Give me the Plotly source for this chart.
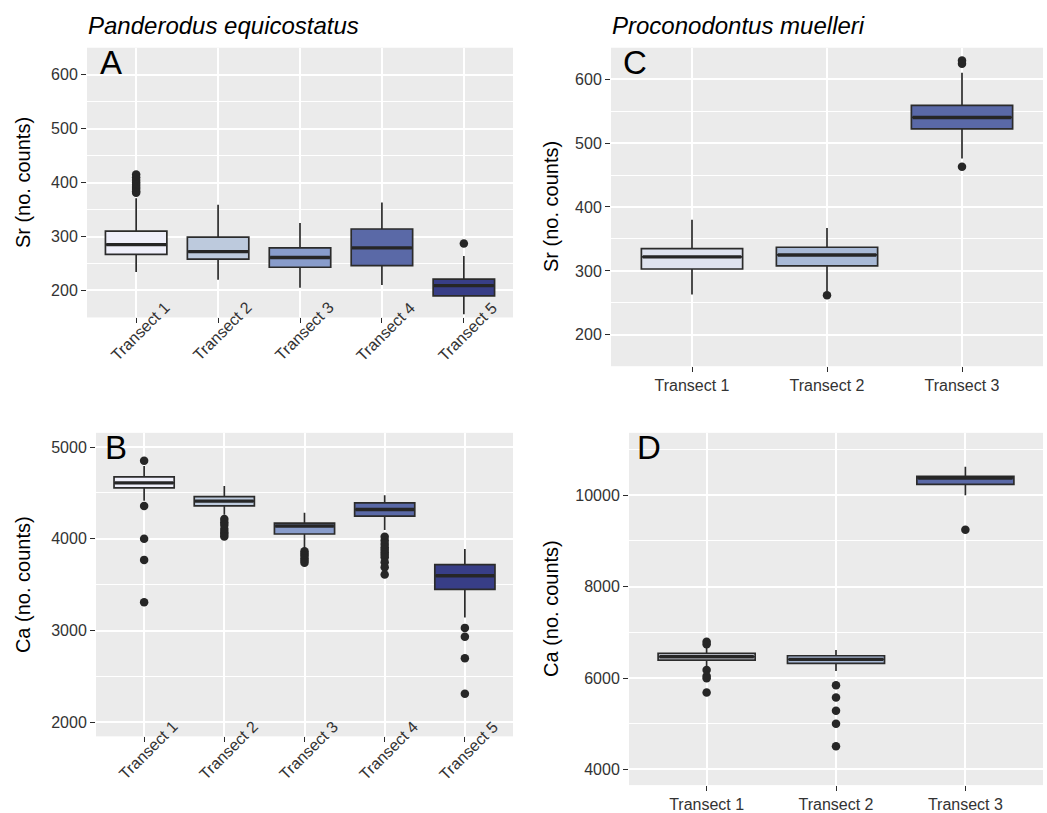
import plotly.graph_objects as go

W, H = 1047, 813
FONT = "Liberation Sans, Arial, sans-serif"

# ---------------- data ----------------
cats5 = ["Transect 1", "Transect 2", "Transect 3", "Transect 4", "Transect 5"]
cats3 = ["Transect 1", "Transect 2", "Transect 3"]

# Panel A  (Panderodus equicostatus, Sr)
A_low = [234, 220, 205, 210, 156]
A_q1 = [267, 258, 243, 246, 190]
A_med = [285, 272, 261, 279, 209]
A_q3 = [310, 299, 279, 314, 221]
A_high = [371, 359, 325, 363, 264]
A_out = [[415, 410, 405, 400, 396, 392, 388, 384, 381], [], [], [], [287]]
A_fill = ["#EFEFFA", "#BDCADD", "#889CCB", "#5A69A7", "#383E87"]

# Panel B  (Panderodus equicostatus, Ca)
B_low = [4414, 4263, 3890, 4096, 3142]
B_q1 = [4555, 4360, 4053, 4248, 3449]
B_med = [4610, 4411, 4140, 4320, 3598]
B_q3 = [4675, 4461, 4172, 4393, 3720]
B_high = [4794, 4577, 4284, 4476, 3890]
B_out = [[4852, 4357, 4002, 3771, 3308],
         [4216, 4180, 4150, 4107, 4075, 4053, 4025],
         [3865, 3840, 3818, 3790, 3764, 3739],
         [4024, 3981, 3945, 3908, 3880, 3854, 3827, 3800, 3746, 3692, 3612],
         [3030, 2933, 2698, 2311]]
B_fill = ["#EFEFFA", "#BDCADD", "#889CCB", "#5A69A7", "#383E87"]

# Panel C  (Proconodontus muelleri, Sr)
C_low = [263, 268, 476]
C_q1 = [303, 308, 522]
C_med = [322, 325, 540]
C_q3 = [335, 337, 559]
C_high = [380, 367, 610]
C_out = [[], [262], [629, 624, 463]]
C_fill = ["#DFE3EF", "#A8B9D6", "#5A69A7"]

# Panel D  (Proconodontus muelleri, Ca)
D_low = [6249, 6155, 10000]
D_q1 = [6394, 6322, 10239]
D_med = [6467, 6409, 10377]
D_q3 = [6539, 6488, 10414]
D_high = [6670, 6612, 10624]
D_out = [[6793, 6740, 6177, 6046, 5995, 5683],
         [5843, 5574, 5284, 5001, 4508],
         [9245]]
D_fill = ["#DFE3EF", "#A8B9D6", "#5A69A7"]

titles = ["Panderodus equicostatus", "Proconodontus muelleri"]
letters = ["A", "B", "C", "D"]
ytitles = ["Sr (no. counts)", "Ca (no. counts)", "Sr (no. counts)", "Ca (no. counts)"]

# ---------------- layout helpers ----------------
def px_x(p):
    return p / W

def px_y(p):
    return 1 - p / H

panels = [
    dict(ax="", xd=(87, 513), yd=(48, 319), yr=(150, 650), dt=100, mn=50,
         d=(A_low, A_q1, A_med, A_q3, A_high, A_out, A_fill), cats=cats5, rot=True),
    dict(ax="2", xd=(96, 513), yd=(435, 740), yr=(1848, 5155), dt=1000, mn=500,
         d=(B_low, B_q1, B_med, B_q3, B_high, B_out, B_fill), cats=cats5, rot=True),
    dict(ax="3", xd=(611, 1043), yd=(48, 368), yr=(151, 649), dt=100, mn=50,
         d=(C_low, C_q1, C_med, C_q3, C_high, C_out, C_fill), cats=cats3, rot=False),
    dict(ax="4", xd=(629, 1043), yd=(435, 789), yr=(3658, 11365), dt=2000, mn=1000,
         d=(D_low, D_q1, D_med, D_q3, D_high, D_out, D_fill), cats=cats3, rot=False),
]

TICKCOL = "#333333"
fig = go.Figure()
layout = dict(
    width=W, height=H, margin=dict(l=0, r=0, t=0, b=0),
    paper_bgcolor="white", plot_bgcolor="#EBEBEB",
    showlegend=False, font=dict(family=FONT, color=TICKCOL, size=16),
    boxmode="overlay",
)
annotations = []
BOXW = 0.75
EDGE = "#2B2B2B"

for i, p in enumerate(panels):
    ax = p["ax"]
    xa, ya = "x" + ax, "y" + ax
    low, q1, med, q3, high, outs, fills = p["d"]
    n = len(p["cats"])
    pos = list(range(1, n + 1))
    for k in range(n):
        fig.add_trace(go.Box(
            x=[pos[k]], q1=[q1[k]], median=[med[k]], q3=[q3[k]],
            lowerfence=[low[k]], upperfence=[high[k]],
            width=BOXW, whiskerwidth=0, fillcolor=fills[k],
            line=dict(color=EDGE, width=1.7), boxpoints=False,
            xaxis=xa, yaxis=ya, hoverinfo="skip",
        ))
        # thicker median line (ggplot style)
        fig.add_trace(go.Scatter(
            x=[pos[k] - BOXW / 2 + 0.01, pos[k] + BOXW / 2 - 0.01],
            y=[med[k], med[k]], mode="lines",
            line=dict(color="#262626", width=3.4),
            xaxis=xa, yaxis=ya, hoverinfo="skip",
        ))
        if outs[k]:
            fig.add_trace(go.Scatter(
                x=[pos[k]] * len(outs[k]), y=outs[k], mode="markers",
                marker=dict(color="#262626", size=8.5, line=dict(width=0)),
                xaxis=xa, yaxis=ya, hoverinfo="skip",
            ))
    xdom = [px_x(p["xd"][0]), px_x(p["xd"][1])]
    ydom = [px_y(p["yd"][1]), px_y(p["yd"][0])]
    layout["xaxis" + ax] = dict(
        domain=xdom, anchor=ya, range=[0.4, n + 0.6],
        tickmode="array", tickvals=pos, ticktext=p["cats"],
        showticklabels=not p["rot"], ticks="outside", ticklen=5,
        tickcolor=EDGE, tickwidth=1.2,
        showgrid=True, gridcolor="white", gridwidth=1.5,
        zeroline=False, showline=False, fixedrange=True,
        tickfont=dict(family=FONT, size=16, color=TICKCOL),
    )
    layout["yaxis" + ax] = dict(
        domain=ydom, anchor=xa, range=list(p["yr"]),
        tickmode="linear", tick0=0, dtick=p["dt"], tickformat="d",
        ticks="outside", ticklen=5, tickcolor=EDGE, tickwidth=1.2,
        showgrid=True, gridcolor="white", gridwidth=1.5,
        minor=dict(tickmode="linear", tick0=0, dtick=p["mn"], showgrid=True,
                   gridcolor="white", gridwidth=0.7, ticks=""),
        zeroline=False, showline=False, fixedrange=True,
        tickfont=dict(family=FONT, size=16, color=TICKCOL),
    )
    if p["rot"]:
        for k in range(n):
            annotations.append(dict(
                x=pos[k], xref=xa, y=ydom[0], yref="paper",
                text=p["cats"][k], textangle=-45, showarrow=False,
                xanchor="center", yanchor="middle", xshift=4, yshift=-14,
                font=dict(family=FONT, size=16, color=TICKCOL),
            ))
    # panel letter
    annotations.append(dict(
        x=px_x(p["xd"][0] + (24 if i in (0, 2) else 20)), xref="paper",
        y=px_y(p["yd"][0] + 15), yref="paper",
        text=letters[i],
        showarrow=False, xanchor="center", yanchor="middle",
        font=dict(family=FONT, size=33, color="black"),
    ))
    # y axis title
    ytx = 22.5 if i < 2 else 551
    annotations.append(dict(
        x=px_x(ytx), xref="paper",
        y=(ydom[0] + ydom[1]) / 2, yref="paper",
        text=ytitles[i], textangle=-90, showarrow=False,
        xanchor="center", yanchor="middle",
        font=dict(family=FONT, size=20, color="black"),
    ))

# species titles
for t, xpx in zip(titles, (86, 610)):
    annotations.append(dict(
        x=px_x(xpx), xref="paper", y=px_y(26), yref="paper",
        text="<i>" + t + "</i>", showarrow=False,
        xanchor="left", yanchor="middle",
        font=dict(family=FONT, size=24, color="black"),
    ))

layout["annotations"] = annotations
fig.update_layout(**layout)
fig.write_html("out.html")
